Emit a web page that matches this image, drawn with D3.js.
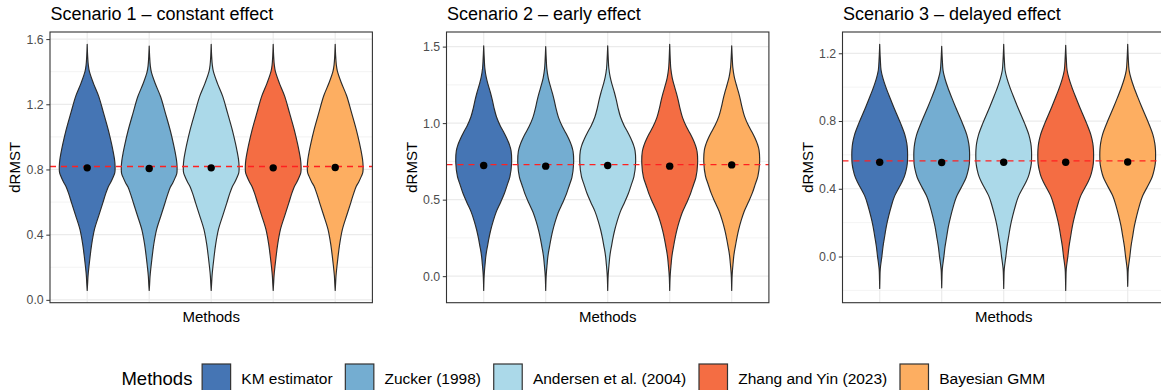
<!DOCTYPE html>
<html><head><meta charset="utf-8">
<script src="https://cdn.jsdelivr.net/npm/d3@7"></script>
<style>
body{margin:0;background:#fff}
svg{display:block;font-family:"Liberation Sans",Arial,Helvetica,sans-serif}
</style>
</head><body>
<svg id="chart" width="1161" height="390"></svg>
<script>
// ---------------- data ----------------
const methods = ["KM estimator","Zucker (1998)","Andersen et al. (2004)","Zhang and Yin (2023)","Bayesian GMM"];
const methodColors = ["#4575b4","#74add1","#abd9e9","#f46d43","#fdae61"];
const scenarioTitles = ["Scenario 1 \u2013 constant effect","Scenario 2 \u2013 early effect","Scenario 3 \u2013 delayed effect"];
const trueEffect = [0.818, 0.729, 0.565];

const means_s1 = [0.810, 0.806, 0.810, 0.810, 0.812];
const means_s2 = [0.723, 0.719, 0.723, 0.719, 0.727];
const means_s3 = [0.557, 0.555, 0.557, 0.557, 0.558];

const max_s1 = [1.568, 1.557, 1.568, 1.568, 1.568];
const min_s1 = [0.058, 0.058, 0.058, 0.058, 0.058];
const max_s2 = [1.505, 1.500, 1.505, 1.515, 1.505];
const min_s2 = [-0.093, -0.093, -0.093, -0.093, -0.093];
const max_s3 = [1.253, 1.241, 1.253, 1.247, 1.253];
const min_s3 = [-0.188, -0.185, -0.188, -0.200, -0.176];

const profileV_s1 = [1.568,1.50,1.44,1.40,1.33,1.25,1.15,1.04,0.96,0.91,0.86,0.818,0.78,0.757,0.72,0.696,0.65,0.595,0.52,0.432,0.34,0.26,0.20,0.147,0.10,0.058];
const profileD_s1 = [0,0.015,0.04,0.08,0.22,0.41,0.58,0.76,0.87,0.93,0.98,1.0,0.99,0.94,0.84,0.76,0.66,0.56,0.42,0.26,0.16,0.10,0.06,0.03,0.015,0];
const profileV_s2 = [1.505,1.42,1.36,1.30,1.25,1.20,1.15,1.10,1.04,0.98,0.94,0.90,0.86,0.82,0.74,0.65,0.60,0.54,0.48,0.42,0.36,0.30,0.25,0.20,0.16,0.12,0.08,0.04,0.0,-0.093];
const profileD_s2 = [0,0.02,0.04,0.09,0.16,0.24,0.31,0.37,0.46,0.60,0.72,0.83,0.92,0.98,1.0,0.94,0.85,0.74,0.60,0.45,0.34,0.25,0.19,0.14,0.10,0.07,0.05,0.03,0.015,0];
const profileV_s3 = [1.253,1.17,1.10,1.05,1.0,0.94,0.883,0.786,0.72,0.669,0.63,0.59,0.55,0.512,0.47,0.434,0.355,0.30,0.238,0.18,0.121,0.06,0.004,-0.074,-0.13,-0.188];
const profileD_s3 = [0,0.02,0.05,0.12,0.22,0.36,0.50,0.75,0.90,0.97,0.995,1.0,0.99,0.95,0.88,0.78,0.53,0.42,0.32,0.24,0.18,0.12,0.08,0.02,0.008,0];

const majorTicks_s1 = [0, 0.4, 0.8, 1.2, 1.6];
const minorTicks_s1 = [0.2, 0.6, 1.0, 1.4];
const majorTicks_s2 = [0, 0.5, 1.0, 1.5];
const minorTicks_s2 = [0.25, 0.75, 1.25];
const majorTicks_s3 = [0, 0.4, 0.8, 1.2];
const minorTicks_s3 = [-0.2, 0.2, 0.6, 1.0];

const yTitle = "dRMST";
const xTitle = "Methods";
const legendTitle = "Methods";

// ---------------- layout ----------------
const panels = [
  {title: scenarioTitles[0], truth: trueEffect[0], means: means_s1, max: max_s1, min: min_s1, pv: profileV_s1, pd: profileD_s1, major: majorTicks_s1, minor: minorTicks_s1},
  {title: scenarioTitles[1], truth: trueEffect[1], means: means_s2, max: max_s2, min: min_s2, pv: profileV_s2, pd: profileD_s2, major: majorTicks_s2, minor: minorTicks_s2},
  {title: scenarioTitles[2], truth: trueEffect[2], means: means_s3, max: max_s3, min: min_s3, pv: profileV_s3, pd: profileD_s3, major: majorTicks_s3, minor: minorTicks_s3}
];
const panelLeft = [50, 446.5, 842.5];
const panelW = 322.4, panelTop = 32, panelBottom = 302.7;

const svg = d3.select("#chart");
const defs = svg.append("defs");

panels.forEach((p, pi) => {
  const left = panelLeft[pi], right = left + panelW;
  const all = p.max.concat(p.min, p.means, [p.truth]);
  const lo = d3.min(all), hi = d3.max(all), pad = (hi - lo) * 0.05;
  const y = d3.scaleLinear().domain([lo - pad, hi + pad]).range([panelBottom, panelTop]);
  const x = d3.scalePoint().domain(methods).range([left, right]).padding(0.6);
  const hw = x.step() * 0.45;

  const g = svg.append("g");
  const clipId = "clip" + pi;
  defs.append("clipPath").attr("id", clipId).append("rect")
    .attr("x", left).attr("y", panelTop).attr("width", panelW).attr("height", panelBottom - panelTop);
  const pg = g.append("g").attr("clip-path", `url(#${clipId})`);

  // grid
  pg.selectAll("line.minor").data(p.minor).join("line")
    .attr("x1", left).attr("x2", right).attr("y1", d => y(d)).attr("y2", d => y(d))
    .attr("stroke", "#ebebeb").attr("stroke-width", 0.6);
  pg.selectAll("line.major").data(p.major).join("line")
    .attr("x1", left).attr("x2", right).attr("y1", d => y(d)).attr("y2", d => y(d))
    .attr("stroke", "#ebebeb").attr("stroke-width", 1.2);
  pg.selectAll("line.vx").data(methods).join("line")
    .attr("x1", d => x(d)).attr("x2", d => x(d)).attr("y1", panelTop).attr("y2", panelBottom)
    .attr("stroke", "#ebebeb").attr("stroke-width", 1.2);

  // violins
  methods.forEach((m, i) => {
    const last = p.pv.length - 1;
    const shift = p.means[i] - p.means[0];
    const pts = p.pv.map((v, k) => ({
      v: k === 0 ? p.max[i] : (k === last ? p.min[i] : v + shift),
      d: p.pd[k]
    }));
    const cx = x(m);
    const area = d3.area()
      .curve(d3.curveCatmullRom.alpha(0.5))
      .y(d => y(d.v))
      .x0(d => cx - hw * d.d)
      .x1(d => cx + hw * d.d);
    pg.append("path").attr("d", area(pts) + "Z")
      .attr("fill", methodColors[i]).attr("stroke", "#2b2b2b")
      .attr("stroke-width", 1.15).attr("stroke-linejoin", "round");
  });

  // true value line
  pg.append("line").attr("x1", left).attr("x2", right)
    .attr("y1", y(p.truth)).attr("y2", y(p.truth))
    .attr("stroke", "#ff2020").attr("stroke-width", 1.4).attr("stroke-dasharray", "6,5");

  // means
  pg.selectAll("circle").data(methods).join("circle")
    .attr("cx", d => x(d)).attr("cy", (d, i) => y(p.means[i])).attr("r", 3.7).attr("fill", "#000");

  // border
  g.append("rect").attr("x", left).attr("y", panelTop).attr("width", panelW).attr("height", panelBottom - panelTop)
    .attr("fill", "none").attr("stroke", "#333333").attr("stroke-width", 1.1);

  // y axis
  const ax = g.append("g").attr("transform", `translate(${left},0)`)
    .call(d3.axisLeft(y).tickValues(p.major).tickFormat(d3.format(".1f")).tickSize(3.7).tickPadding(2.6));
  ax.select(".domain").remove();
  ax.selectAll(".tick line").attr("stroke", "#333333").attr("stroke-width", 1);
  ax.selectAll(".tick text").attr("fill", "#4d4d4d").style("font-size", "12.3px")
    .style("font-family", "'Liberation Sans',Arial,sans-serif");

  // titles
  g.append("text").attr("x", left + 0.5).attr("y", 19.5).text(p.title)
    .style("font-size", "18px").attr("fill", "#000");
  g.append("text").attr("transform", `translate(${left - 30},${(panelTop + panelBottom) / 2}) rotate(-90)`)
    .attr("text-anchor", "middle").text(yTitle).style("font-size", "15px").attr("fill", "#000");
  g.append("text").attr("x", (left + right) / 2).attr("y", 321.5).attr("text-anchor", "middle")
    .text(xTitle).style("font-size", "15px").attr("fill", "#000");
});

// ---------------- legend ----------------
const lg = svg.append("g");
const legY = 364, keySize = 28.5, textBase = 384.3, keyGap = 10.7, itemGap = 12.7;
const lt = lg.append("text").attr("x", 0).attr("y", 385).text(legendTitle).style("font-size", "18.5px");
let cursor = lt.node().getComputedTextLength() + 9.7;
methods.forEach((m, i) => {
  lg.append("rect").attr("x", cursor).attr("y", legY).attr("width", keySize).attr("height", keySize)
    .attr("fill", methodColors[i]).attr("stroke", "#333333").attr("stroke-width", 1.2);
  cursor += keySize + keyGap;
  const t = lg.append("text").attr("x", cursor).attr("y", textBase).text(m).style("font-size", "15.5px");
  cursor += t.node().getComputedTextLength() + itemGap;
});
const totalW = cursor - itemGap;
lg.attr("transform", `translate(${583.3 - totalW / 2},0)`);
</script>
</body></html>
